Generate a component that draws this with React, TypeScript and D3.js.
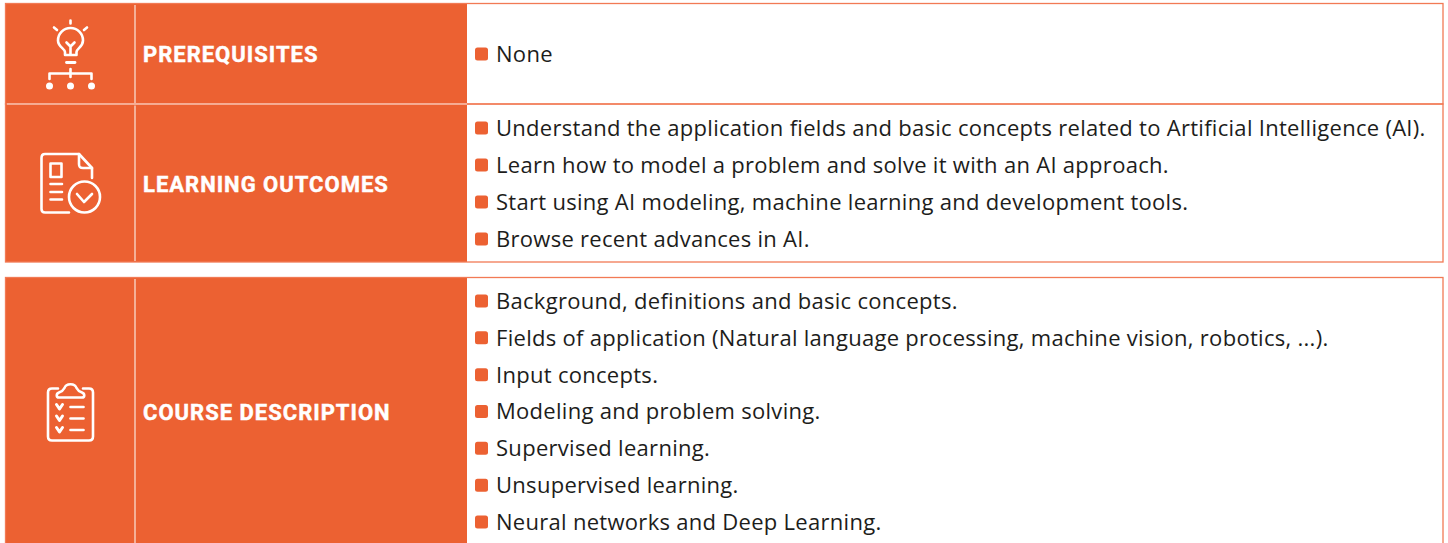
import { useEffect, useRef } from "react";
import * as d3 from "d3";

const ORANGE = "#ec6132";
const BORDER = "#f27a55";
const RULE = "#fbe4da";
const TEXT = "#1d1d1b";

const prerequisites = ["None"];
const outcomes = [
  "Understand the application fields and basic concepts related to Artificial Intelligence (AI).",
  "Learn how to model a problem and solve it with an AI approach.",
  "Start using AI modeling, machine learning and development tools.",
  "Browse recent advances in AI.",
];
const description = [
  "Background, definitions and basic concepts.",
  "Fields of application (Natural language processing, machine vision, robotics, ...).",
  "Input concepts.",
  "Modeling and problem solving.",
  "Supervised learning.",
  "Unsupervised learning.",
  "Neural networks and Deep Learning.",
];

const sections = [
  { title: "PREREQUISITES", items: prerequisites, icon: "bulb", top: 3.5, bottom: 104, first: 54, last: 54, titleY: 54 },
  { title: "LEARNING OUTCOMES", items: outcomes, icon: "doc", top: 104, bottom: 262, first: 128, last: 239, titleY: 184 },
  { title: "COURSE DESCRIPTION", items: description, icon: "clip", top: 277.5, bottom: 560, first: 301, last: 522, titleY: 412 },
];

const bodyFont = "'Open Sans', sans-serif";
const headFont = "Roboto, sans-serif";

function drawIcon(g: any, kind: string) {
  const line = (d: string, w = 2.6) =>
    g.append("path").attr("d", d).attr("fill", "none").attr("stroke", "#fff").attr("stroke-width", w).attr("stroke-linecap", "round").attr("stroke-linejoin", "round");

  if (kind === "bulb") {
    line("M70.5,20.5V23.5 M54,27.5L57,30 M87,27.5L84,30");
    line("M65,55V52C65,48.5 58,47 58,40.5A12.5,12.5 0 1 1 83,40.5C83,47 76.5,48.5 76.5,52V55Z");
    line("M70.5,54V46.5 M66.5,42.5L70.5,46.5L74.5,42.5");
    line("M66.5,62.5H75", 2.8);
    line("M70.5,69V77 M49.5,79V73.5H91.5V79");
    [49.5, 70.5, 91.5].forEach((x) => g.append("circle").attr("cx", x).attr("cy", 86).attr("r", 3.5).attr("fill", "#fff"));
  }
  if (kind === "doc") {
    line("M69,212.5H45C42.5,212.5 41.5,211 41.5,209V158C41.5,155.5 43,154 45,154H79L92,168V178");
    line("M79,154V164C79,167 80,168 83,168H92");
    line("M50.5,163.5H61.5V177H50.5Z");
    line("M50.5,184H62 M50.5,192H62 M50.5,199.5H62");
    g.append("circle").attr("cx", 84.5).attr("cy", 197).attr("r", 15.5).attr("fill", "none").attr("stroke", "#fff").attr("stroke-width", 2.6);
    line("M77,194L84,202L92,194");
  }
  if (kind === "clip") {
    line("M58,388.5H52C49.5,388.5 48,390 48,392.5V436.5C48,439 49.5,440.5 52,440.5H89C91.5,440.5 93,439 93,436.5V392.5C93,390 91.5,388.5 89,388.5H83");
    line("M59,397.5C56,397.5 56,393.5 59,392.5C62,391.5 63.5,390 64.5,388C66,383 75,383 76.5,388C77.5,390 79,391.5 82,392.5C85,393.5 85,397.5 82,397.5Z");
    [407, 418.5, 430].forEach((y) => {
      line(`M56.5,${y - 2.5}L59.5,${y + 2}L62.5,${y - 2.5}`, 3);
      line(`M70.5,${y}H83.5`);
    });
  }
}

const App = () => {
  const ref = useRef<SVGSVGElement>(null);

  useEffect(() => {
    const svg = d3.select(ref.current);
    svg.selectAll("*").remove();

    sections.forEach((s) => {
      const h = s.bottom - s.top;
      // orange label block with the thin frame round the whole row
      svg.append("rect").attr("x", 5.5).attr("y", s.top).attr("width", 461.5).attr("height", h).attr("fill", ORANGE);
      svg.append("rect").attr("x", 5.5).attr("y", s.top).attr("width", 1437.5).attr("height", h).attr("fill", "none").attr("stroke", BORDER).attr("stroke-width", 1.3);
      svg.append("line").attr("x1", 135).attr("x2", 135).attr("y1", s.top + 1.5).attr("y2", s.bottom - 1).attr("stroke", RULE).attr("stroke-width", 1.2);

      const rowY = d3.scalePoint<string>().domain(s.items).range([s.first, s.last]);

      svg.append("text").attr("x", 143).attr("y", s.titleY).attr("dy", "0.36em")
        .attr("fill", "#fff").attr("stroke", "#fff").attr("stroke-width", 0.45)
        .attr("font-family", headFont).attr("font-weight", 700).attr("font-size", 22)
        .attr("letter-spacing", 1).text(s.title);

      s.items.forEach((item) => {
        const y = rowY(item) ?? s.first;
        svg.append("rect").attr("x", 475).attr("y", y - 6.5).attr("width", 13).attr("height", 13).attr("rx", 2.5).attr("fill", ORANGE);
        svg.append("text").attr("x", 496).attr("y", y).attr("dy", "0.36em").attr("fill", TEXT)
          .attr("font-family", bodyFont).attr("font-size", 22).attr("letter-spacing", 0.29).text(item);
      });

      drawIcon(svg.append("g"), s.icon);
    });

    // rule between the first two rows, pale over the orange part
    svg.append("line").attr("x1", 7).attr("x2", 467).attr("y1", 104).attr("y2", 104).attr("stroke", RULE).attr("stroke-width", 1.2);
  }, []);

  return <svg ref={ref} width={1448} height={543} style={{ position: "absolute", left: 0, top: 0, background: "#fff" }} />;
};

export default App;
